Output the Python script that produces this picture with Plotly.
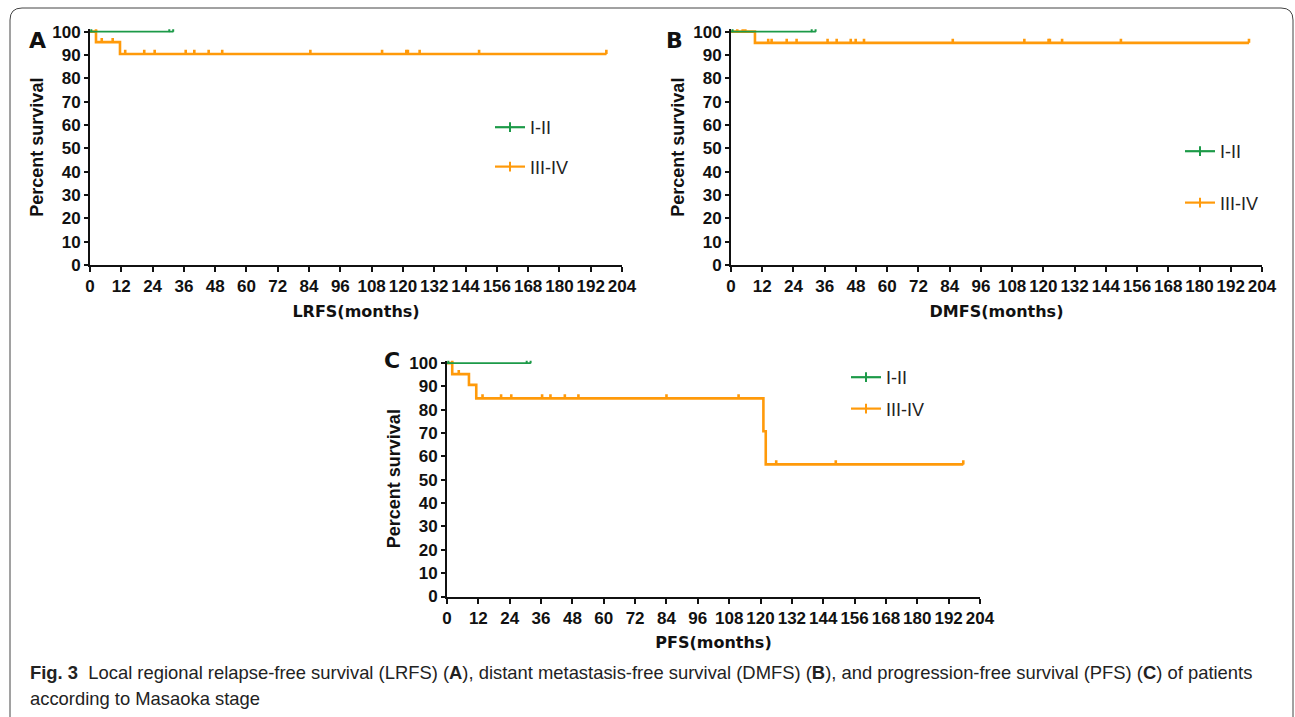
import plotly.graph_objects as go

# ---------------- data ----------------
# Panel A : LRFS
A_g_times = [0]
A_g_surv = [100]
A_g_end = 31.9
A_g_cens = [0.5, 30.4, 31.9]
A_o_times = [0, 2.3, 11.5]
A_o_surv = [100, 95.5, 90.4]
A_o_end = 198
A_o_cens = [2.3, 4.5, 8.7, 13.5, 20.8, 24.8, 36.7, 40, 45.5, 50.7, 84.5,
            112, 121.3, 121.9, 126.4, 149.2, 198]

# Panel B : DMFS
B_g_times = [0]
B_g_surv = [100]
B_g_end = 32.5
B_g_cens = [0.6, 31, 32.5]
B_o_times = [0, 9.2]
B_o_surv = [100, 95.2]
B_o_end = 199
B_o_cens = [2.4, 4.5, 5.5, 14.3, 15.6, 21.4, 25.2, 37.1, 40.6, 46, 47.9, 51.1,
            85.2, 112.7, 122, 122.5, 127.2, 149.8, 199]

# Panel C : PFS
C_g_times = [0]
C_g_surv = [100]
C_g_end = 32
C_g_cens = [0.5, 30.5, 32]
C_o_times = [0, 2, 8.4, 11.2, 121.1, 122]
C_o_surv = [100, 95.3, 90.7, 84.9, 70.8, 56.6]
C_o_end = 197.6
C_o_cens = [2, 4.5, 13.6, 20.7, 24.6, 36.4, 39.6, 45.1, 50.3, 84, 111.6,
            126, 148.8, 197.6]

x_ticks = list(range(0, 205, 12))
y_ticks = list(range(0, 101, 10))
groups = ["I-II", "III-IV"]
x_titles = ["LRFS(months)", "DMFS(months)", "PFS(months)"]
panel_letters = ["A", "B", "C"]

GREEN = "#1c9a48"
ORANGE = "#ff9a0a"

panels = [
    (A_g_times, A_g_surv, A_g_end, A_g_cens, A_o_times, A_o_surv, A_o_end, A_o_cens),
    (B_g_times, B_g_surv, B_g_end, B_g_cens, B_o_times, B_o_surv, B_o_end, B_o_cens),
    (C_g_times, C_g_surv, C_g_end, C_g_cens, C_o_times, C_o_surv, C_o_end, C_o_cens),
]


def surv_at(t, times, surv):
    v = surv[0]
    for ti, si in zip(times, surv):
        if ti < t:
            v = si
    return v


W, H = 1295, 717
# pixel layout -> paper fractions
x_dom_px = [(90, 622), (731, 1262), (447, 980)]
y_dom_px = [(265, 29.3), (265, 29.3), (596.5, 360.8)]

fig = go.Figure()

axis_font = dict(family="Liberation Sans", size=17, color="#111", weight="bold")

for i, (gt, gs, ge, gc, ot, os_, oe, oc) in enumerate(panels):
    xa = "x" if i == 0 else f"x{i+1}"
    ya = "y" if i == 0 else f"y{i+1}"
    leg = "legend" if i == 0 else f"legend{i+1}"
    curves = [(ot, os_, oe, oc, ORANGE, 2.6), (gt, gs, ge, gc, GREEN, 1.7)]
    for (tt, ss, ee, cc, col, lw) in curves:
        fig.add_trace(go.Scatter(
            x=list(tt) + [ee], y=list(ss) + [ss[-1]], mode="lines",
            line=dict(color=col, width=lw, shape="hv"),
            xaxis=xa, yaxis=ya, showlegend=False, hoverinfo="skip"))
        cy = [surv_at(t, tt, ss) for t in cc]
        fig.add_trace(go.Scatter(
            x=cc, y=cy, mode="markers",
            marker=dict(size=1, color=col),
            error_y=dict(type="data", symmetric=False, array=[1.8] * len(cc),
                         arrayminus=[0] * len(cc), width=0, thickness=max(lw, 2),
                         color=col),
            cliponaxis=False, xaxis=xa, yaxis=ya, showlegend=False,
            hoverinfo="skip"))
    # legend entries
    for name, col in zip(groups, [GREEN, ORANGE]):
        fig.add_trace(go.Scatter(
            x=[None], y=[None], mode="lines+markers", name=name,
            line=dict(color=col, width=2.2),
            marker=dict(symbol="line-ns", size=7,
                        line=dict(color=col, width=2), color=col),
            xaxis=xa, yaxis=ya, legend=leg, legendgroup=f"{leg}_{name}",
            showlegend=True))

    x0, x1 = x_dom_px[i]
    yb, yt = y_dom_px[i]
    xaxis = dict(
        domain=[x0 / W, x1 / W], range=[0, 204], anchor=ya,
        tickvals=x_ticks, ticktext=[str(v) for v in x_ticks], tickangle=0,
        showline=True, linecolor="#111", linewidth=2,
        ticks="outside", ticklen=5, tickwidth=2, tickcolor="#111",
        showgrid=False, zeroline=False, tickfont=axis_font,
        title=dict(text=x_titles[i], standoff=10,
                   font=dict(family="DejaVu Sans", size=16, color="#111",
                             weight="bold")),
        automargin=False, fixedrange=True)
    yaxis = dict(
        domain=[1 - yb / H, 1 - yt / H], range=[0, 101], anchor=xa,
        tickvals=y_ticks, ticktext=[str(v) for v in y_ticks],
        showline=True, linecolor="#111", linewidth=2,
        ticks="outside", ticklen=4, tickwidth=2, tickcolor="#111",
        showgrid=False, zeroline=False, tickfont=axis_font,
        title=dict(text="Percent survival", standoff=4,
                   font=dict(family="Liberation Sans", size=18, color="#111",
                             weight="bold")),
        automargin=False, fixedrange=True)
    if i == 0:
        fig.update_layout(xaxis=xaxis, yaxis=yaxis)
    else:
        fig.update_layout(**{f"xaxis{i+1}": xaxis, f"yaxis{i+1}": yaxis})

leg_font = dict(family="Liberation Sans", size=18, color="#222")
leg_pos = [(490, 109, 13), (1180, 133, 25), (846, 359, 5)]
for i, (lx, ly, gap) in enumerate(leg_pos):
    key = "legend" if i == 0 else f"legend{i+1}"
    fig.update_layout(**{key: dict(
        x=lx / W, y=1 - ly / H, xanchor="left", yanchor="top",
        bgcolor="rgba(0,0,0,0)", borderwidth=0, font=leg_font,
        tracegroupgap=gap, itemwidth=30)})

letter_pos = [(37, 40), (674, 40), (392, 360)]
for letter, (px, py) in zip(panel_letters, letter_pos):
    fig.add_annotation(x=px / W, y=1 - py / H, xref="paper", yref="paper",
                       text=letter, showarrow=False, xanchor="center",
                       yanchor="middle",
                       font=dict(family="DejaVu Sans", size=22, color="#111",
                                 weight="bold"))

cap_font = dict(family="Liberation Sans", size=18.4, color="#222")
fig.add_annotation(
    x=28 / W, y=1 - 672 / H, xref="paper", yref="paper", showarrow=False,
    xanchor="left", yanchor="middle", font=cap_font,
    text="<b>Fig. 3</b>  Local regional relapse-free survival (LRFS) (<b>A</b>), "
         "distant metastasis-free survival (DMFS) (<b>B</b>), and progression-free "
         "survival (PFS) (<b>C</b>) of patients")
fig.add_annotation(
    x=28 / W, y=1 - 698 / H, xref="paper", yref="paper", showarrow=False,
    xanchor="left", yanchor="middle", font=cap_font,
    text="according to Masaoka stage")

# rounded frame around the figure
l, r, t, b = 10 / W, 1293 / W, 1 - 8 / H, -0.05
rx, ry = 12 / W, 12 / H
fig.add_shape(type="path", xref="paper", yref="paper",
              path=(f"M {l},{b} L {l},{t-ry} Q {l},{t} {l+rx},{t} "
                    f"L {r-rx},{t} Q {r},{t} {r},{t-ry} L {r},{b}"),
              line=dict(color="#444", width=1))

fig.update_layout(
    width=W, height=H, margin=dict(l=0, r=0, t=0, b=0),
    paper_bgcolor="white", plot_bgcolor="white", showlegend=True)

fig.write_html("out.html")
